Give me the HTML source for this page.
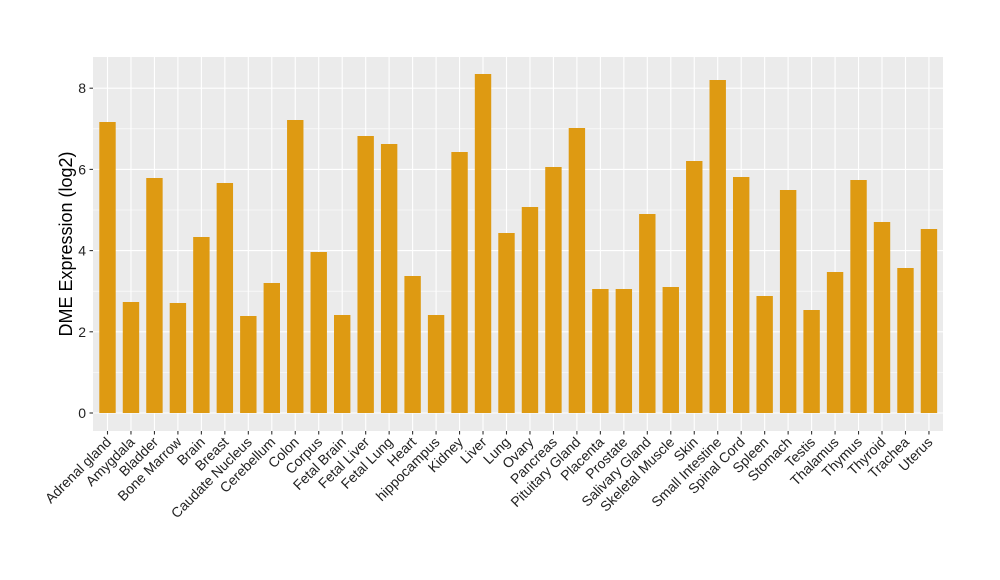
<!DOCTYPE html>
<html><head><meta charset="utf-8"><style>body{margin:0;background:#fff}svg{display:block}text{font-family:"Liberation Sans",Arial,sans-serif}</style></head><body>
<svg width="1000" height="580" viewBox="0 0 1000 580" xmlns="http://www.w3.org/2000/svg">
<rect x="93" y="57" width="850" height="374" fill="#ebebeb"/>
<g stroke="#fff" stroke-width="0.55">
<line x1="93" x2="943" y1="372.4" y2="372.4"/><line x1="93" x2="943" y1="291.2" y2="291.2"/><line x1="93" x2="943" y1="210" y2="210"/><line x1="93" x2="943" y1="128.8" y2="128.8"/>
</g>
<g stroke="#fff" stroke-width="1.1">
<line x1="93" x2="943" y1="413" y2="413"/><line x1="93" x2="943" y1="331.8" y2="331.8"/><line x1="93" x2="943" y1="250.6" y2="250.6"/><line x1="93" x2="943" y1="169.4" y2="169.4"/><line x1="93" x2="943" y1="88.2" y2="88.2"/>
<line x1="107.5" x2="107.5" y1="57" y2="431"/><line x1="130.97" x2="130.97" y1="57" y2="431"/><line x1="154.44" x2="154.44" y1="57" y2="431"/><line x1="177.91" x2="177.91" y1="57" y2="431"/><line x1="201.38" x2="201.38" y1="57" y2="431"/><line x1="224.85" x2="224.85" y1="57" y2="431"/><line x1="248.32" x2="248.32" y1="57" y2="431"/><line x1="271.79" x2="271.79" y1="57" y2="431"/><line x1="295.26" x2="295.26" y1="57" y2="431"/><line x1="318.73" x2="318.73" y1="57" y2="431"/><line x1="342.2" x2="342.2" y1="57" y2="431"/><line x1="365.67" x2="365.67" y1="57" y2="431"/><line x1="389.14" x2="389.14" y1="57" y2="431"/><line x1="412.61" x2="412.61" y1="57" y2="431"/><line x1="436.08" x2="436.08" y1="57" y2="431"/><line x1="459.55" x2="459.55" y1="57" y2="431"/><line x1="483.02" x2="483.02" y1="57" y2="431"/><line x1="506.49" x2="506.49" y1="57" y2="431"/><line x1="529.96" x2="529.96" y1="57" y2="431"/><line x1="553.43" x2="553.43" y1="57" y2="431"/><line x1="576.9" x2="576.9" y1="57" y2="431"/><line x1="600.37" x2="600.37" y1="57" y2="431"/><line x1="623.84" x2="623.84" y1="57" y2="431"/><line x1="647.31" x2="647.31" y1="57" y2="431"/><line x1="670.78" x2="670.78" y1="57" y2="431"/><line x1="694.25" x2="694.25" y1="57" y2="431"/><line x1="717.72" x2="717.72" y1="57" y2="431"/><line x1="741.19" x2="741.19" y1="57" y2="431"/><line x1="764.66" x2="764.66" y1="57" y2="431"/><line x1="788.13" x2="788.13" y1="57" y2="431"/><line x1="811.6" x2="811.6" y1="57" y2="431"/><line x1="835.07" x2="835.07" y1="57" y2="431"/><line x1="858.54" x2="858.54" y1="57" y2="431"/><line x1="882.01" x2="882.01" y1="57" y2="431"/><line x1="905.48" x2="905.48" y1="57" y2="431"/><line x1="928.95" x2="928.95" y1="57" y2="431"/>
</g>
<g fill="#de9a12">
<rect x="99.3" y="122" width="16.4" height="291"/><rect x="122.77" y="302" width="16.4" height="111"/><rect x="146.24" y="178" width="16.4" height="235"/><rect x="169.71" y="303" width="16.4" height="110"/><rect x="193.18" y="237" width="16.4" height="176"/><rect x="216.65" y="183" width="16.4" height="230"/><rect x="240.12" y="316" width="16.4" height="97"/><rect x="263.59" y="283" width="16.4" height="130"/><rect x="287.06" y="120" width="16.4" height="293"/><rect x="310.53" y="252" width="16.4" height="161"/><rect x="334" y="315" width="16.4" height="98"/><rect x="357.47" y="136" width="16.4" height="277"/><rect x="380.94" y="144" width="16.4" height="269"/><rect x="404.41" y="276" width="16.4" height="137"/><rect x="427.88" y="315" width="16.4" height="98"/><rect x="451.35" y="152" width="16.4" height="261"/><rect x="474.82" y="74" width="16.4" height="339"/><rect x="498.29" y="233" width="16.4" height="180"/><rect x="521.76" y="207" width="16.4" height="206"/><rect x="545.23" y="167" width="16.4" height="246"/><rect x="568.7" y="128" width="16.4" height="285"/><rect x="592.17" y="289" width="16.4" height="124"/><rect x="615.64" y="289" width="16.4" height="124"/><rect x="639.11" y="214" width="16.4" height="199"/><rect x="662.58" y="287" width="16.4" height="126"/><rect x="686.05" y="161" width="16.4" height="252"/><rect x="709.52" y="80" width="16.4" height="333"/><rect x="732.99" y="177" width="16.4" height="236"/><rect x="756.46" y="296" width="16.4" height="117"/><rect x="779.93" y="190" width="16.4" height="223"/><rect x="803.4" y="310" width="16.4" height="103"/><rect x="826.87" y="272" width="16.4" height="141"/><rect x="850.34" y="180" width="16.4" height="233"/><rect x="873.81" y="222" width="16.4" height="191"/><rect x="897.28" y="268" width="16.4" height="145"/><rect x="920.75" y="229" width="16.4" height="184"/>
</g>
<g stroke="#333" stroke-width="1.1">
<line x1="89.5" x2="93" y1="413" y2="413"/><line x1="89.5" x2="93" y1="331.8" y2="331.8"/><line x1="89.5" x2="93" y1="250.6" y2="250.6"/><line x1="89.5" x2="93" y1="169.4" y2="169.4"/><line x1="89.5" x2="93" y1="88.2" y2="88.2"/>
</g>
<g font-size="14" fill="#222" text-anchor="end">
<text x="86" y="418">0</text><text x="86" y="336.8">2</text><text x="86" y="255.6">4</text><text x="86" y="174.4">6</text><text x="86" y="93.2">8</text>
</g>
<text transform="translate(72,244) rotate(-90)" font-size="18" fill="#000" text-anchor="middle">DME Expression (log2)</text>
<g font-size="14" fill="#222" text-anchor="end">
<text transform="translate(112,443) rotate(-45)">Adrenal gland</text>
<text transform="translate(135.5,443) rotate(-45)">Amygdala</text>
<text transform="translate(159,443) rotate(-45)">Bladder</text>
<text transform="translate(182.4,443) rotate(-45)">Bone Marrow</text>
<text transform="translate(205.9,443) rotate(-45)">Brain</text>
<text transform="translate(229.4,443) rotate(-45)">Breast</text>
<text transform="translate(252.8,443) rotate(-45)">Caudate Nucleus</text>
<text transform="translate(276.3,443) rotate(-45)">Cerebellum</text>
<text transform="translate(299.8,443) rotate(-45)">Colon</text>
<text transform="translate(323.2,443) rotate(-45)">Corpus</text>
<text transform="translate(346.7,443) rotate(-45)">Fetal Brain</text>
<text transform="translate(370.2,443) rotate(-45)">Fetal Liver</text>
<text transform="translate(393.6,443) rotate(-45)">Fetal Lung</text>
<text transform="translate(417.1,443) rotate(-45)">Heart</text>
<text transform="translate(440.6,443) rotate(-45)">hippocampus</text>
<text transform="translate(464,443) rotate(-45)">Kidney</text>
<text transform="translate(487.5,443) rotate(-45)">Liver</text>
<text transform="translate(511,443) rotate(-45)">Lung</text>
<text transform="translate(534.5,443) rotate(-45)">Ovary</text>
<text transform="translate(557.9,443) rotate(-45)">Pancreas</text>
<text transform="translate(581.4,443) rotate(-45)">Pituitary Gland</text>
<text transform="translate(604.9,443) rotate(-45)">Placenta</text>
<text transform="translate(628.3,443) rotate(-45)">Prostate</text>
<text transform="translate(651.8,443) rotate(-45)">Salivary Gland</text>
<text transform="translate(675.3,443) rotate(-45)">Skeletal Muscle</text>
<text transform="translate(698.8,443) rotate(-45)">Skin</text>
<text transform="translate(722.2,443) rotate(-45)">Small Intestine</text>
<text transform="translate(745.7,443) rotate(-45)">Spinal Cord</text>
<text transform="translate(769.2,443) rotate(-45)">Spleen</text>
<text transform="translate(792.6,443) rotate(-45)">Stomach</text>
<text transform="translate(816.1,443) rotate(-45)">Testis</text>
<text transform="translate(839.6,443) rotate(-45)">Thalamus</text>
<text transform="translate(863,443) rotate(-45)">Thymus</text>
<text transform="translate(886.5,443) rotate(-45)">Thyroid</text>
<text transform="translate(910,443) rotate(-45)">Trachea</text>
<text transform="translate(933.5,443) rotate(-45)">Uterus</text>
</g>
<g stroke="#333" stroke-width="1.1">
<line x1="107.5" x2="107.5" y1="431" y2="434.5"/><line x1="130.97" x2="130.97" y1="431" y2="434.5"/><line x1="154.44" x2="154.44" y1="431" y2="434.5"/><line x1="177.91" x2="177.91" y1="431" y2="434.5"/><line x1="201.38" x2="201.38" y1="431" y2="434.5"/><line x1="224.85" x2="224.85" y1="431" y2="434.5"/><line x1="248.32" x2="248.32" y1="431" y2="434.5"/><line x1="271.79" x2="271.79" y1="431" y2="434.5"/><line x1="295.26" x2="295.26" y1="431" y2="434.5"/><line x1="318.73" x2="318.73" y1="431" y2="434.5"/><line x1="342.2" x2="342.2" y1="431" y2="434.5"/><line x1="365.67" x2="365.67" y1="431" y2="434.5"/><line x1="389.14" x2="389.14" y1="431" y2="434.5"/><line x1="412.61" x2="412.61" y1="431" y2="434.5"/><line x1="436.08" x2="436.08" y1="431" y2="434.5"/><line x1="459.55" x2="459.55" y1="431" y2="434.5"/><line x1="483.02" x2="483.02" y1="431" y2="434.5"/><line x1="506.49" x2="506.49" y1="431" y2="434.5"/><line x1="529.96" x2="529.96" y1="431" y2="434.5"/><line x1="553.43" x2="553.43" y1="431" y2="434.5"/><line x1="576.9" x2="576.9" y1="431" y2="434.5"/><line x1="600.37" x2="600.37" y1="431" y2="434.5"/><line x1="623.84" x2="623.84" y1="431" y2="434.5"/><line x1="647.31" x2="647.31" y1="431" y2="434.5"/><line x1="670.78" x2="670.78" y1="431" y2="434.5"/><line x1="694.25" x2="694.25" y1="431" y2="434.5"/><line x1="717.72" x2="717.72" y1="431" y2="434.5"/><line x1="741.19" x2="741.19" y1="431" y2="434.5"/><line x1="764.66" x2="764.66" y1="431" y2="434.5"/><line x1="788.13" x2="788.13" y1="431" y2="434.5"/><line x1="811.6" x2="811.6" y1="431" y2="434.5"/><line x1="835.07" x2="835.07" y1="431" y2="434.5"/><line x1="858.54" x2="858.54" y1="431" y2="434.5"/><line x1="882.01" x2="882.01" y1="431" y2="434.5"/><line x1="905.48" x2="905.48" y1="431" y2="434.5"/><line x1="928.95" x2="928.95" y1="431" y2="434.5"/>
</g>
</svg>
</body></html>
